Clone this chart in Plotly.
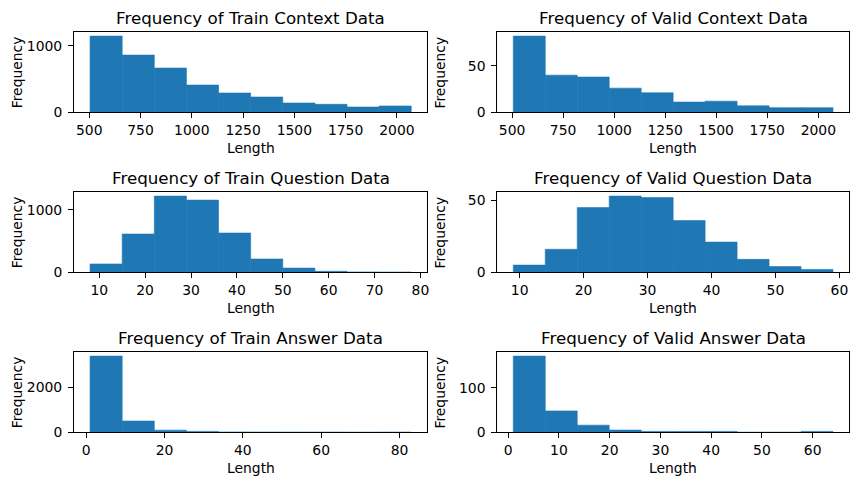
import numpy as np
import plotly.graph_objects as go

# ---------------- data ----------------
panel_titles = [
    "Frequency of Train Context Data", "Frequency of Valid Context Data",
    "Frequency of Train Question Data", "Frequency of Valid Question Data",
    "Frequency of Train Answer Data", "Frequency of Valid Answer Data",
]
# min / max of the lengths (histogram span, 10 equal bins)
length_min = [504, 506, 8, 9, 1, 1]
length_max = [2070, 2072, 78, 59, 83, 64]

train_context_counts = [1145, 860, 665, 410, 290, 230, 140, 120, 80, 95]
valid_context_counts = [82, 40, 38, 26, 21, 11, 12, 7, 5, 5]
train_question_counts = [133, 612, 1218, 1154, 628, 213, 67, 16, 3, 1]
valid_question_counts = [5, 16, 45, 53, 52, 36, 21, 9, 4, 2]
train_answer_counts = [3370, 500, 95, 40, 8, 4, 2, 1, 0, 1]
valid_answer_counts = [171, 48, 16, 5, 2, 2, 2, 0, 0, 2]

all_counts = [train_context_counts, valid_context_counts,
              train_question_counts, valid_question_counts,
              train_answer_counts, valid_answer_counts]

x_dticks = [250, 250, 10, 10, 20, 10]
y_dticks = [1000, 50, 1000, 50, 2000, 100]

# ---------------- layout geometry ----------------
W, H = 859, 485
col_px = [(74.0, 427.3), (497.3, 849.0)]
row_px = [(32.3, 112.3), (192.3, 272.3), (352.3, 432.3)]

FONT = "DejaVu Sans, sans-serif"
BLUE = "#1f77b4"
TICK_SIZE = 13.9
LABEL_SIZE = 13.9
TITLE_SIZE = 16.7

fig = go.Figure()
annotations = []
layout_axes = {}

for i in range(6):
    r, c = divmod(i, 2)
    n = i + 1
    xa = "x" if n == 1 else f"x{n}"
    ya = "y" if n == 1 else f"y{n}"
    edges = np.linspace(length_min[i], length_max[i], 11)
    centers = (edges[:-1] + edges[1:]) / 2
    widths = np.diff(edges)
    cnts = all_counts[i]
    fig.add_trace(go.Bar(x=centers, y=cnts, width=widths,
                         marker=dict(color=BLUE, line=dict(width=0.6, color=BLUE)),
                         xaxis=xa, yaxis=ya, showlegend=False, hoverinfo="x+y"))

    x0, x1 = col_px[c]
    y0, y1 = row_px[r]
    span = length_max[i] - length_min[i]
    xr = [length_min[i] - 0.05 * span, length_max[i] + 0.05 * span]
    yr = [0, max(cnts) * 1.05]
    common = dict(showline=True, linecolor="black", linewidth=1, mirror=True,
                  ticks="outside", ticklen=5, tickwidth=1, tickcolor="black",
                  showgrid=False, zeroline=False, automargin=False,
                  tickfont=dict(family=FONT, size=TICK_SIZE, color="black"))
    layout_axes["xaxis" if n == 1 else f"xaxis{n}"] = dict(
        domain=[x0 / W, x1 / W], anchor=ya, range=xr, dtick=x_dticks[i], tick0=0, **common)
    layout_axes["yaxis" if n == 1 else f"yaxis{n}"] = dict(
        domain=[1 - y1 / H, 1 - y0 / H], anchor=xa, range=yr, dtick=y_dticks[i], tick0=0,
        ticklabelstandoff=3, **common)

    xc = (x0 + x1) / 2
    annotations.append(dict(text=panel_titles[i], x=xc / W, y=1 - (y0 - 14) / H, xref="paper", yref="paper",
                            xanchor="center", yanchor="middle", showarrow=False,
                            font=dict(family=FONT, size=TITLE_SIZE, color="black")))
    annotations.append(dict(text="Length", x=xc / W, y=1 - (y1 + 36) / H, xref="paper", yref="paper",
                            xanchor="center", yanchor="middle", showarrow=False,
                            font=dict(family=FONT, size=LABEL_SIZE, color="black")))
    annotations.append(dict(text="Frequency", x=(x0 - 57) / W, y=1 - ((y0 + y1) / 2) / H, xref="paper",
                            yref="paper", xanchor="center", yanchor="middle", textangle=-90, showarrow=False,
                            font=dict(family=FONT, size=LABEL_SIZE, color="black")))

fig.update_layout(width=W, height=H, margin=dict(l=0, r=0, t=0, b=0, autoexpand=False),
                  paper_bgcolor="white", plot_bgcolor="white",
                  annotations=annotations, **layout_axes)

fig.write_html("out.html", config={"displayModeBar": False},
               post_script="document.body.style.margin='0';document.body.style.overflow='hidden';")
